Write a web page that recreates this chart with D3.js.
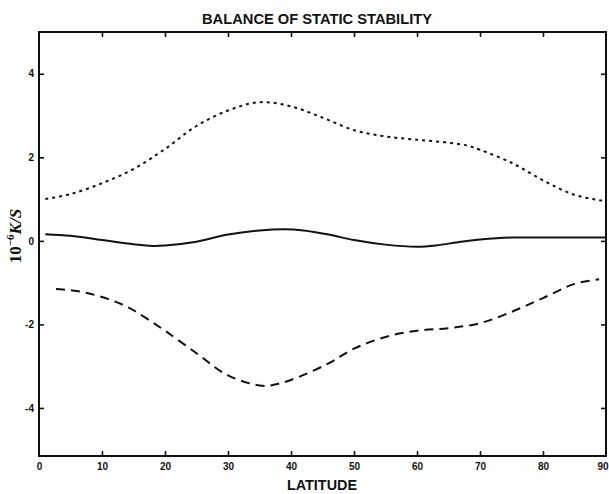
<!DOCTYPE html>
<html>
<head>
<meta charset="utf-8">
<script src="https://cdn.jsdelivr.net/npm/d3@7"></script>
<style>
  html, body { margin: 0; padding: 0; background: #fff; }
  svg { display: block; }
</style>
</head>
<body>
<svg id="chart" width="609" height="494"></svg>
<script>
// Latitude (degrees) and static-stability tendency terms (10^-6 K/s)
const upperLat = [1, 5, 10, 15, 20, 25, 30, 35, 40, 45, 50, 55, 60, 65, 68, 70, 75, 80, 85, 90];
const upperVal = [1.0, 1.12, 1.38, 1.72, 2.2, 2.75, 3.12, 3.32, 3.22, 2.95, 2.65, 2.5, 2.42, 2.35, 2.28, 2.18, 1.87, 1.45, 1.1, 0.95];

const balanceLat = [1, 5, 10, 15, 18, 20, 25, 30, 35, 39, 42, 46, 50, 55, 60, 63, 67, 70, 75, 80, 90];
const balanceVal = [0.16, 0.12, 0.02, -0.08, -0.12, -0.11, -0.02, 0.15, 0.25, 0.28, 0.25, 0.15, 0.02, -0.09, -0.14, -0.11, -0.02, 0.03, 0.08, 0.08, 0.08];

const lowerLat = [2.7, 6, 9, 12, 14.4, 17, 20, 25, 30, 35.5, 38, 41, 46, 50, 55, 60, 65, 70, 75, 80, 85, 88.9];
const lowerVal = [-1.15, -1.2, -1.3, -1.45, -1.61, -1.85, -2.15, -2.69, -3.22, -3.47, -3.42, -3.27, -2.93, -2.58, -2.3, -2.15, -2.09, -1.97, -1.7, -1.37, -1.03, -0.92];

const xTicks = [10, 20, 30, 40, 50, 60, 70, 80];
const xTickLabels = ["0", "10", "20", "30", "40", "50", "60", "70", "80", "90"];
const yTicks = [-4, -2, 0, 2, 4];
const yTickLabels = ["-4", "-2", "0", "2", "4"];

const svg = d3.select("#chart");
const ink = "#111";

const x = d3.scaleLinear().domain([0, 90]).range([39, 606]);
const y = d3.scaleLinear().domain([-5.15, 5]).range([456, 32]);

// frame
svg.append("rect")
  .attr("x", x(0)).attr("y", y(5))
  .attr("width", x(90) - x(0)).attr("height", y(-5.15) - y(5))
  .attr("fill", "none").attr("stroke", ink).attr("stroke-width", 2);

const tickStyle = g => {
  g.select(".domain").remove();
  g.selectAll(".tick line").attr("stroke", ink).attr("stroke-width", 1.6);
  g.selectAll(".tick text")
    .attr("fill", ink)
    .style("font-family", "'Liberation Sans', Arial, sans-serif")
    .style("font-weight", "bold")
    .style("font-size", "10px");
};

// bottom axis with inward ticks and labels
const xLabelValues = d3.range(0, 91, 10);
svg.append("g")
  .attr("transform", `translate(0,${y(-5.15)})`)
  .call(d3.axisBottom(x).tickValues(xLabelValues).tickSizeInner(-5).tickSizeOuter(0).tickPadding(6.5)
    .tickFormat((d, i) => xTickLabels[i]))
  .call(tickStyle)
  .call(g => g.selectAll(".tick line").filter(d => d === 0 || d === 90).remove())
  // keep the last label inside the page edge
  .call(g => g.selectAll(".tick text").filter(d => d === 90)
    .attr("text-anchor", "end").attr("x", 608 - x(90)));

// top axis: ticks only
svg.append("g")
  .attr("transform", `translate(0,${y(5)})`)
  .call(d3.axisTop(x).tickValues(xTicks).tickSizeInner(-5).tickSizeOuter(0).tickFormat(""))
  .call(tickStyle);

// left axis with inward ticks and labels
svg.append("g")
  .attr("transform", `translate(${x(0)},0)`)
  .call(d3.axisLeft(y).tickValues(yTicks).tickSizeInner(-5).tickSizeOuter(0).tickPadding(5)
    .tickFormat((d, i) => yTickLabels[i]))
  .call(tickStyle);

// right axis: ticks only
svg.append("g")
  .attr("transform", `translate(${x(90)},0)`)
  .call(d3.axisRight(y).tickValues(yTicks).tickSizeInner(-5).tickSizeOuter(0).tickFormat(""))
  .call(tickStyle);

// curves
const line = d3.line()
  .x(d => x(d[0]))
  .y(d => y(d[1]))
  .curve(d3.curveCatmullRom.alpha(0.5));

const series = [
  { lat: upperLat, val: upperVal, dash: "3,4" },
  { lat: balanceLat, val: balanceVal, dash: null },
  { lat: lowerLat, val: lowerVal, dash: "9,6" }
];

series.forEach(s => {
  svg.append("path")
    .datum(s.lat.map((l, i) => [l, s.val[i]]))
    .attr("d", line)
    .attr("fill", "none")
    .attr("stroke", ink)
    .attr("stroke-width", 2)
    .attr("stroke-dasharray", s.dash);
});

// title
svg.append("text")
  .attr("x", 317).attr("y", 24)
  .attr("text-anchor", "middle")
  .attr("textLength", 230).attr("lengthAdjust", "spacingAndGlyphs")
  .style("font-family", "'Liberation Sans', Arial, sans-serif")
  .style("font-weight", "bold")
  .style("font-size", "15px")
  .attr("fill", ink)
  .text("BALANCE OF STATIC STABILITY");

// x-axis title
svg.append("text")
  .attr("x", 322).attr("y", 490)
  .attr("text-anchor", "middle")
  .attr("textLength", 70).attr("lengthAdjust", "spacingAndGlyphs")
  .style("font-family", "'Liberation Sans', Arial, sans-serif")
  .style("font-weight", "bold")
  .style("font-size", "15px")
  .attr("fill", ink)
  .text("LATITUDE");

// y-axis title
const yt = svg.append("text")
  .attr("transform", "translate(21,236) rotate(-90)")
  .attr("text-anchor", "middle")
  .style("font-family", "'Liberation Serif', 'Times New Roman', serif")
  .style("font-weight", "bold")
  .style("font-size", "17px")
  .attr("fill", ink);
yt.append("tspan").text("10");
yt.append("tspan").attr("dy", -7).style("font-size", "11px").text("−6");
yt.append("tspan").attr("dy", 7).style("font-style", "italic").text("K/S");
</script>
</body>
</html>
